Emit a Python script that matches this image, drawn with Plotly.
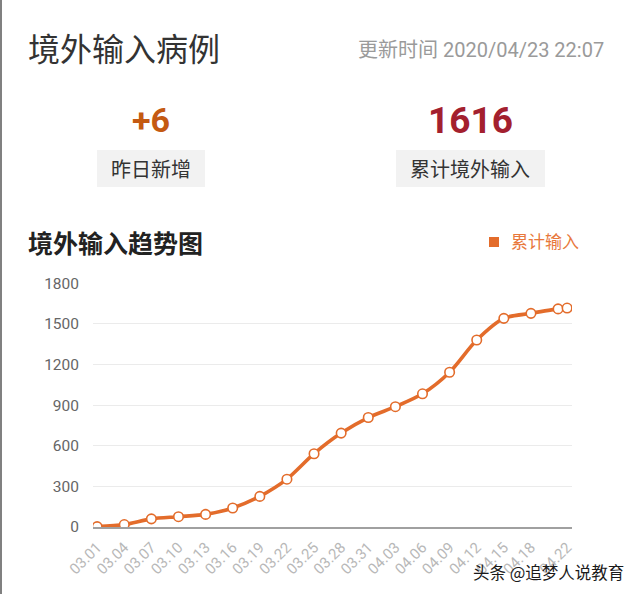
import plotly.graph_objects as go

# ---- data ----
dates = ["2020-03-01", "2020-03-04", "2020-03-07", "2020-03-10", "2020-03-13",
         "2020-03-16", "2020-03-19", "2020-03-22", "2020-03-25", "2020-03-28",
         "2020-03-31", "2020-04-03", "2020-04-06", "2020-04-09", "2020-04-12",
         "2020-04-15", "2020-04-18", "2020-04-21", "2020-04-22"]
cumulative = [3, 18, 60, 76, 93, 140, 226, 353, 541, 693,
              808, 888, 983, 1142, 1380, 1540, 1577, 1610, 1616]
tick_dates = ["2020-03-01", "2020-03-04", "2020-03-07", "2020-03-10", "2020-03-13",
              "2020-03-16", "2020-03-19", "2020-03-22", "2020-03-25", "2020-03-28",
              "2020-03-31", "2020-04-03", "2020-04-06", "2020-04-09", "2020-04-12",
              "2020-04-15", "2020-04-18", "2020-04-22"]
tick_labels = ["03.01", "03.04", "03.07", "03.10", "03.13", "03.16", "03.19",
               "03.22", "03.25", "03.28", "03.31", "04.03", "04.06", "04.09",
               "04.12", "04.15", "04.18", "04.22"]
y_ticks = [0, 300, 600, 900, 1200, 1500, 1800]
new_yesterday = "+6"
total_imported = "1616"

W, H = 640, 594
PL, PR, PT, PB = 93, 572, 283, 527  # plot area in pixels

def px(x):
    return (x - PL) / (PR - PL)

def py(y):
    return (PB - y) / (PB - PT)

FONT = "Roboto, 'Noto Sans CJK SC', sans-serif"
CJK = "'Noto Sans CJK SC', Roboto, sans-serif"
ORANGE = "#e36c2b"

fig = go.Figure()
fig.add_trace(go.Scatter(
    x=dates, y=cumulative, mode="lines+markers",
    line=dict(color=ORANGE, width=3.6, shape="spline", smoothing=0.8),
    marker=dict(size=9.5, color="white", line=dict(color=ORANGE, width=1.6)),
    name="累计输入", showlegend=False,
))

annotations = [
    dict(text="境外输入病例", x=px(26), y=py(47), xanchor="left", yanchor="middle",
         font=dict(family=CJK, size=32, color="#333333")),
    dict(text="更新时间 2020/04/23 22:07", x=px(606), y=py(50), xanchor="right", yanchor="middle",
         font=dict(family=FONT, size=20, color="#9a9a9a")),
    dict(text="<b>" + new_yesterday + "</b>", x=px(151), y=py(120), xanchor="center", yanchor="middle",
         font=dict(family=FONT, size=34, color="#c45a12")),
    dict(text="<b>" + total_imported + "</b>", x=px(470), y=py(120), xanchor="center", yanchor="middle",
         font=dict(family=FONT, size=37, color="#a3202e")),
    dict(text="昨日新增", x=px(151), y=py(168), xanchor="center", yanchor="middle",
         font=dict(family=CJK, size=20, color="#333333")),
    dict(text="累计境外输入", x=px(470), y=py(168), xanchor="center", yanchor="middle",
         font=dict(family=CJK, size=20, color="#333333")),
    dict(text="<b>境外输入趋势图</b>", x=px(26), y=py(242), xanchor="left", yanchor="middle",
         font=dict(family=CJK, size=25, color="#222222")),
    dict(text="累计输入", x=px(509), y=py(240), xanchor="left", yanchor="middle",
         font=dict(family=CJK, size=17, color="#e8783c")),
    dict(text="头条 @追梦人说教育", x=px(626), y=py(572), xanchor="right", yanchor="middle",
         font=dict(family=CJK, size=16.5, color="#1a1a1a")),
]
for a in annotations:
    a.update(xref="paper", yref="paper", showarrow=False)

shapes = [
    dict(type="rect", xref="paper", yref="paper", x0=px(97), x1=px(205), y0=py(150), y1=py(187),
         fillcolor="#f2f2f2", line=dict(width=0), layer="below"),
    dict(type="rect", xref="paper", yref="paper", x0=px(396), x1=px(545), y0=py(150), y1=py(187),
         fillcolor="#f2f2f2", line=dict(width=0), layer="below"),
    dict(type="rect", xref="paper", yref="paper", x0=px(489), x1=px(499), y0=py(237), y1=py(247),
         fillcolor=ORANGE, line=dict(width=0)),
    dict(type="line", xref="paper", yref="paper", x0=px(1), x1=px(1), y0=py(0), y1=py(594),
         line=dict(color="#808080", width=2)),
]

fig.update_layout(
    width=W, height=H,
    margin=dict(l=PL, r=W - PR, t=PT, b=H - PB),
    paper_bgcolor="white", plot_bgcolor="white",
    annotations=annotations, shapes=shapes,
    xaxis=dict(
        type="date", range=["2020-02-29 13:00", "2020-04-22 13:00"],
        tickvals=tick_dates, ticktext=tick_labels, tickangle=-45,
        tickfont=dict(family=FONT, size=15, color="#b8b8b8"),
        showgrid=False, showline=True, linecolor="#a0a0a0", linewidth=1.5,
        ticks="", zeroline=False, fixedrange=True, ticklabelstandoff=4,
    ),
    yaxis=dict(
        range=[0, 1801], tickvals=y_ticks,
        tickfont=dict(family=FONT, size=15.5, color="#666666"),
        showgrid=True, gridcolor="#ebebeb", gridwidth=1,
        zeroline=False, showline=False, ticks="", ticklabelstandoff=13,
        fixedrange=True,
    ),
    font=dict(family=FONT),
)

fig.write_html("out.html", config={"displayModeBar": False},
               post_script="document.body.style.margin='0';")
